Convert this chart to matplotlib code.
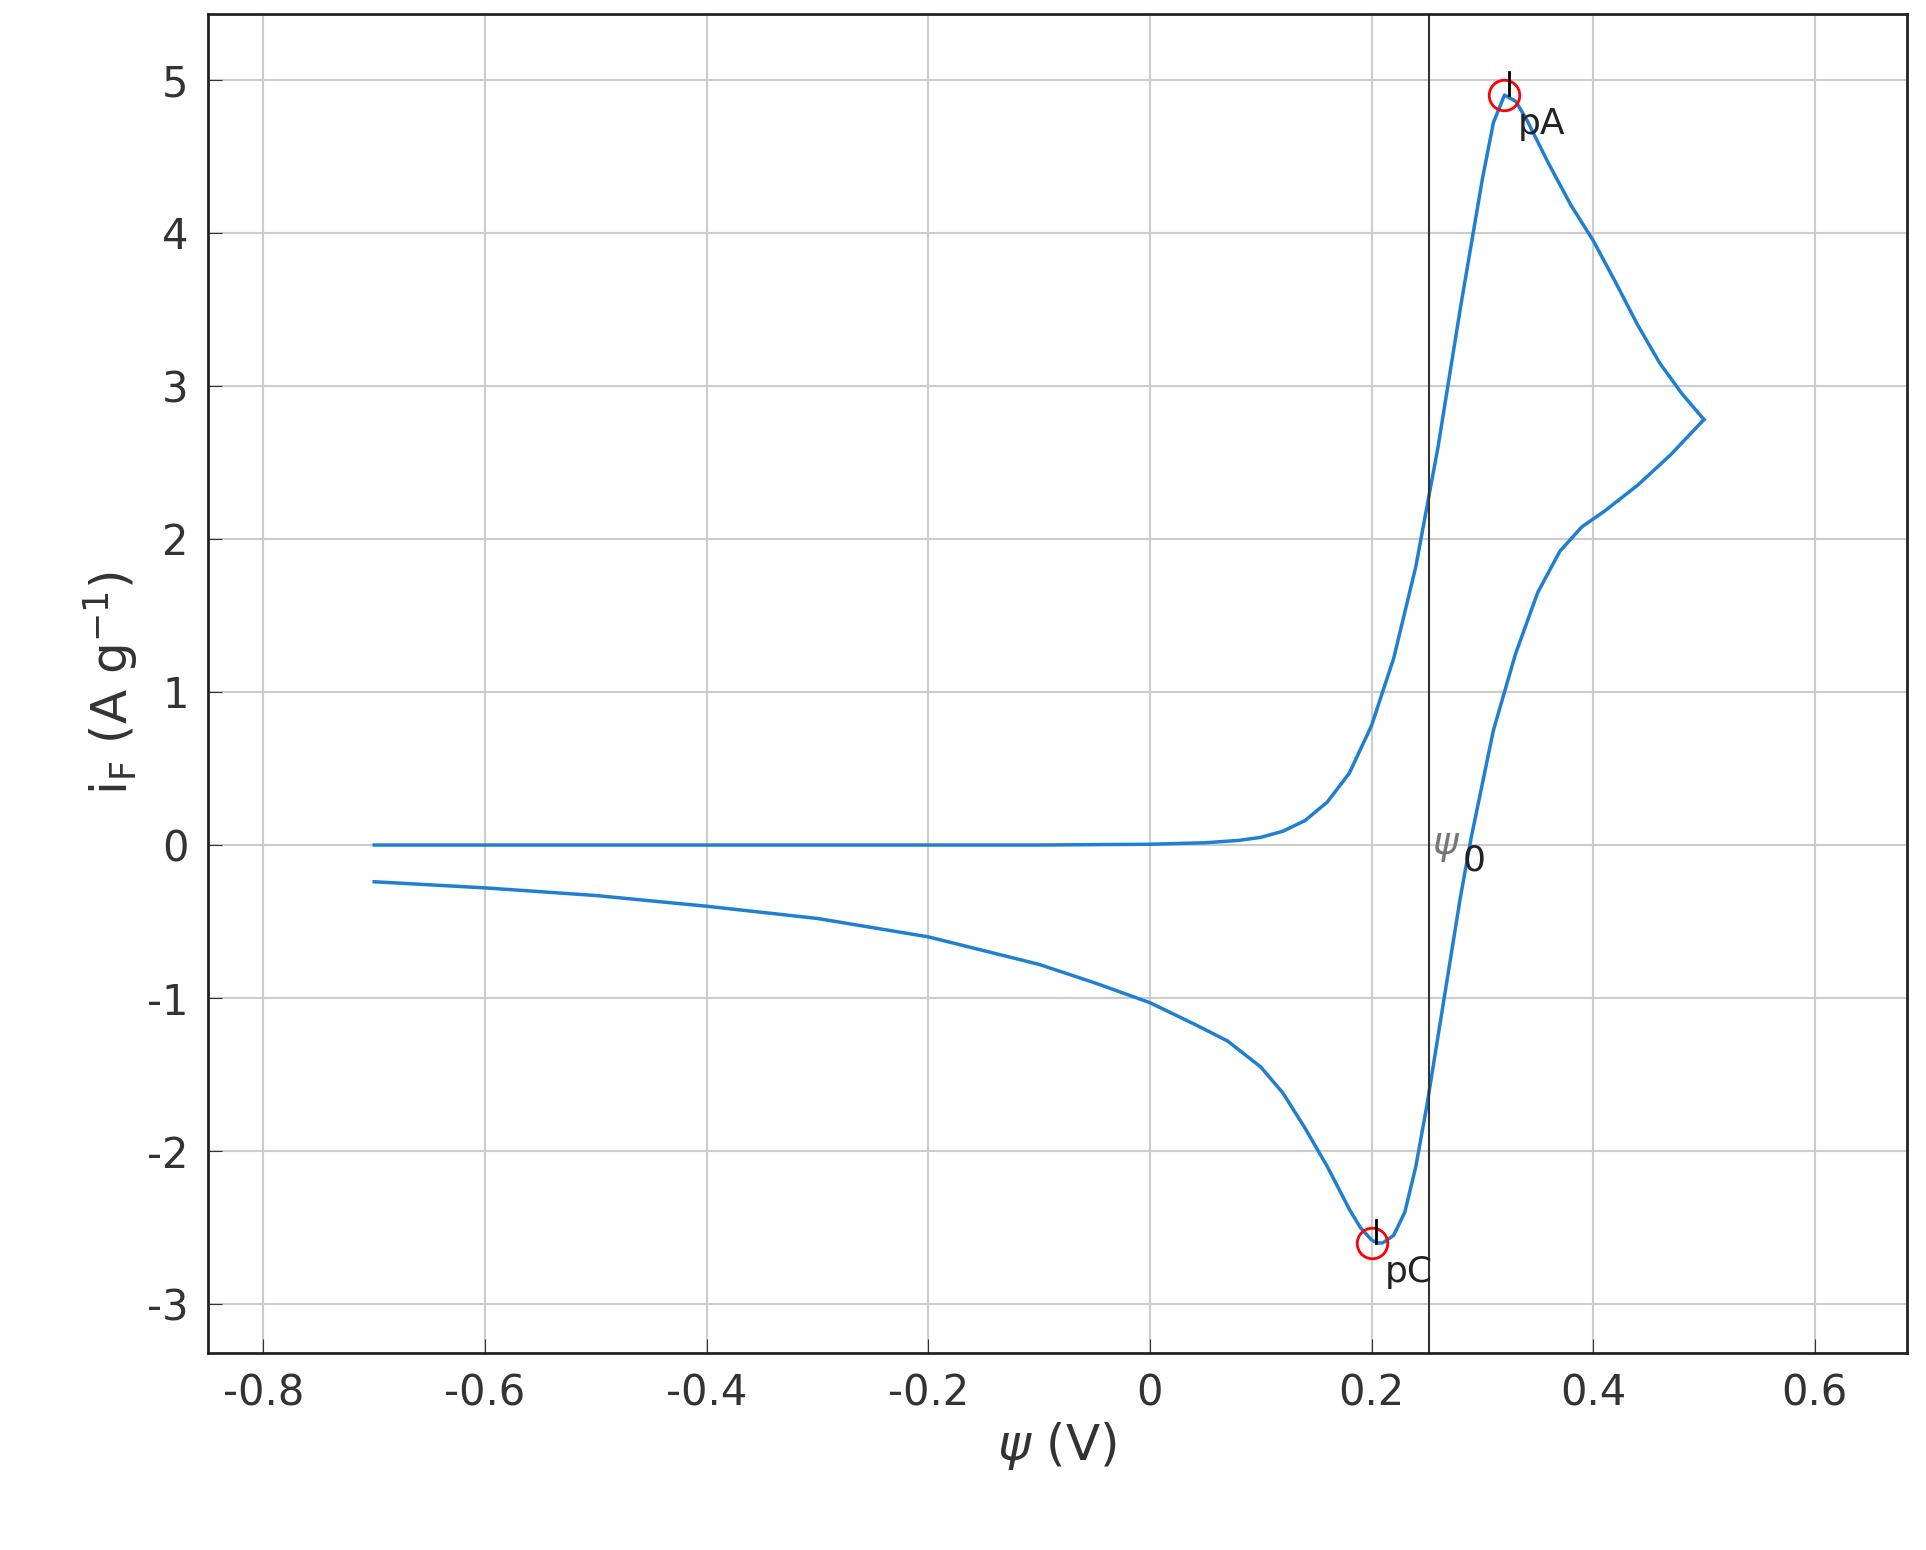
import matplotlib
matplotlib.use("Agg")
import matplotlib.pyplot as plt

fwd_psi = [-0.7,-0.5,-0.3,-0.1,0.0,0.05,0.08,0.10,0.12,0.14,0.16,0.18,0.20,0.22,0.24,0.26,0.28,0.30,0.31,0.32,0.33,0.34,0.36,0.38,0.40,0.42,0.44,0.46,0.48,0.5]
fwd_i   = [0,0,0,0,0.005,0.015,0.03,0.05,0.09,0.16,0.28,0.47,0.78,1.22,1.82,2.60,3.50,4.35,4.72,4.90,4.86,4.74,4.45,4.18,3.95,3.68,3.40,3.15,2.95,2.78]
rev_psi = [0.5,0.47,0.44,0.41,0.39,0.37,0.35,0.33,0.31,0.30,0.29,0.28,0.27,0.26,0.25,0.24,0.23,0.22,0.21,0.205,0.20,0.19,0.18,0.16,0.14,0.12,0.10,0.07,0.04,0.0,-0.05,-0.1,-0.2,-0.3,-0.4,-0.5,-0.6,-0.7]
rev_i   = [2.78,2.55,2.35,2.18,2.08,1.92,1.65,1.25,0.75,0.40,0.05,-0.35,-0.80,-1.25,-1.70,-2.10,-2.40,-2.55,-2.60,-2.60,-2.58,-2.50,-2.38,-2.10,-1.85,-1.62,-1.45,-1.28,-1.17,-1.03,-0.90,-0.78,-0.60,-0.48,-0.40,-0.33,-0.28,-0.24]
peaks_psi = [0.32, 0.20]
peaks_i = [4.90, -2.60]
peak_labels = ["pA", "pC"]
psi0 = 0.252

plt.rcParams['font.family'] = ['DejaVu Sans']
fig = plt.figure(figsize=(19.26, 15.5), dpi=100)
ax = fig.add_axes([0.108, 0.127, 0.882, 0.864])
blue = '#1f7fd0'
ax.plot(fwd_psi, fwd_i, color=blue, lw=2.5)
ax.plot(rev_psi, rev_i, color=blue, lw=2.5)
ax.axvline(psi0, color='#333333', lw=1.5)
ax.plot(peaks_psi, peaks_i, 'o', mfc='none', mec='red', ms=22, mew=2)
for x, y, l in zip(peaks_psi, peaks_i, peak_labels):
    ax.plot([x+0.004, x+0.004], [y, y+0.15], color='black', lw=2)
    ax.text(x+0.012, y-0.08, l, fontsize=26, va='top', ha='left', color='#222222')
ax.text(psi0+0.003, 0.0, r'$\psi$', fontsize=28, color='#777777', va='center')
ax.text(psi0+0.03, -0.1, '0', fontsize=26, va='center', color='#222222')
ax.set_xlim(-0.85, 0.683)
ax.set_ylim(-3.32, 5.43)
ax.set_xticks([-0.8,-0.6,-0.4,-0.2,0,0.2,0.4,0.6])
ax.set_xticklabels(['-0.8','-0.6','-0.4','-0.2','0','0.2','0.4','0.6'])
ax.set_yticks(range(-3, 6))
ax.set_yticklabels([str(v) for v in range(-3, 6)])
ax.tick_params(labelsize=30, direction='in', length=10, color='#333333', labelcolor='#333333', pad=14)
ax.grid(True, color='#cccccc', lw=1.5)
for s in ax.spines.values():
    s.set_linewidth(2); s.set_color('#222222')
ax.set_xlabel(r'$\psi$ (V)', fontsize=36, color='#333333')
ax.set_ylabel(r'i$_\mathrm{F}$ (A g$^{-1}$)', fontsize=36, color='#333333')
fig.savefig('out.png', dpi=100)
